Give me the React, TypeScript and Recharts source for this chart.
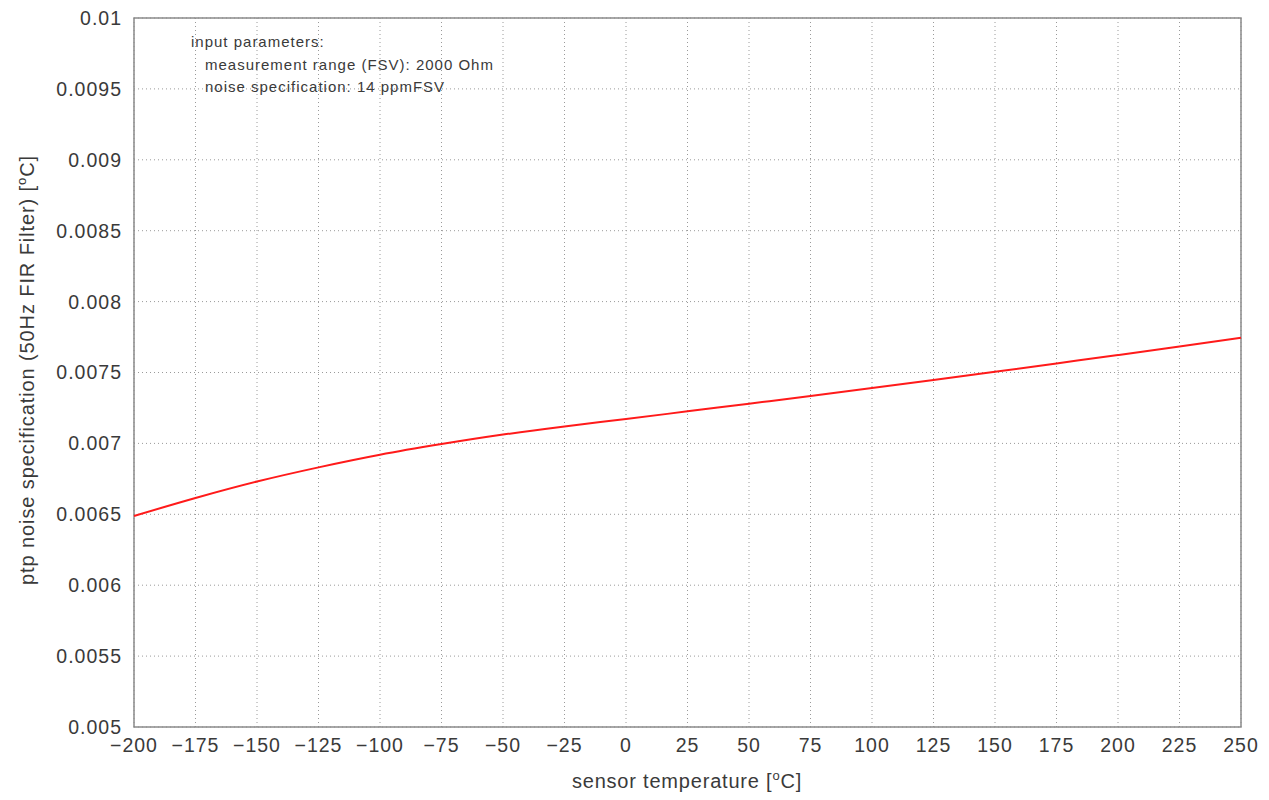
import React from 'react';
import {
  LineChart, Line, XAxis, YAxis, CartesianGrid, ReferenceArea,
} from 'recharts';

const temperatures = [-200, -175, -150, -125, -100, -75, -50, -25, 0, 25, 50, 75, 100, 125, 150, 175, 200, 225, 250];
const noiseValues = [
  0.006488, 0.006615, 0.006731, 0.006831, 0.00692, 0.006995, 0.007062, 0.00712, 0.007172, 0.007226,
  0.00728, 0.007334, 0.00739, 0.007447, 0.007505, 0.007564, 0.007623, 0.007683, 0.007745,
];
const yTicks = [0.005, 0.0055, 0.006, 0.0065, 0.007, 0.0075, 0.008, 0.0085, 0.009, 0.0095, 0.01];
const yTickLabels = ['0.005', '0.0055', '0.006', '0.0065', '0.007', '0.0075', '0.008', '0.0085', '0.009', '0.0095', '0.01'];
const xTicks = temperatures;
const noteLines = ['input parameters:', 'measurement range (FSV): 2000 Ohm', 'noise specification: 14 ppmFSV'];

const data = temperatures.map((t, i) => ({ t, noise: noiseValues[i] }));

const FONT = '"Liberation Sans", Arial, sans-serif';
const TEXT = '#3a3a3a';

const fmtX = (v: number) => (v < 0 ? `\u2212${Math.abs(v)}` : `${v}`);
const fmtY = (v: number) => {
  const i = yTicks.findIndex((y) => Math.abs(y - v) < 1e-9);
  return i >= 0 ? yTickLabels[i] : String(v);
};

const XLabel = () => (
  <text x={687} y={788} textAnchor="middle" fontSize={20} letterSpacing={0.8} fill={TEXT} fontFamily={FONT}>
    <tspan>sensor temperature [</tspan>
    <tspan dy={-8} fontSize={13}>o</tspan>
    <tspan dy={8}>C]</tspan>
  </text>
);

const YLabel = () => (
  <text
    x={0}
    y={0}
    transform="translate(34, 370) rotate(-90)"
    textAnchor="middle"
    fontSize={20}
    letterSpacing={0.9}
    fill={TEXT}
    fontFamily={FONT}
  >
    <tspan>ptp noise specification (50Hz FIR Filter) [</tspan>
    <tspan dy={-8} fontSize={13}>o</tspan>
    <tspan dy={8}>C]</tspan>
  </text>
);

const tickStyle = { fontSize: 19.5, fill: TEXT, fontFamily: FONT, letterSpacing: 1 };

export default function App() {
  return (
    <div style={{ position: 'absolute', left: 0, top: 0, width: 1269, height: 800, background: '#fff' }}>
      <LineChart width={1269} height={800} data={data} margin={{ top: 18, right: 28, bottom: 0, left: 0 }}>
        <CartesianGrid stroke="#9a9a9a" strokeDasharray="1 3" />
        <XAxis
          dataKey="t"
          type="number"
          domain={[-200, 250]}
          ticks={xTicks}
          tickFormatter={fmtX}
          height={73}
          axisLine={false}
          tickLine={false}
          tick={tickStyle}
          tickMargin={5}
          interval={0}
          label={<XLabel />}
        />
        <YAxis
          type="number"
          domain={[0.005, 0.01]}
          ticks={yTicks}
          tickFormatter={fmtY}
          width={134}
          axisLine={false}
          tickLine={false}
          tick={tickStyle}
          tickMargin={6}
          interval={0}
          label={<YLabel />}
        />
        <ReferenceArea x1={-200} x2={250} y1={0.005} y2={0.01} fill="none" stroke="#8a8a8a" strokeWidth={1.5} />
        <Line
          type="monotone"
          dataKey="noise"
          stroke="#ff1a1a"
          strokeWidth={2}
          dot={false}
          isAnimationActive={false}
        />
      </LineChart>
      <div
        style={{
          position: 'absolute',
          left: 191,
          top: 31,
          fontFamily: FONT,
          fontSize: 15,
          letterSpacing: 1,
          color: TEXT,
          lineHeight: '22.5px',
        }}
      >
        {noteLines.map((line, i) => (
          <div key={line} style={{ paddingLeft: i === 0 ? 0 : 14 }}>{line}</div>
        ))}
      </div>
    </div>
  );
}
